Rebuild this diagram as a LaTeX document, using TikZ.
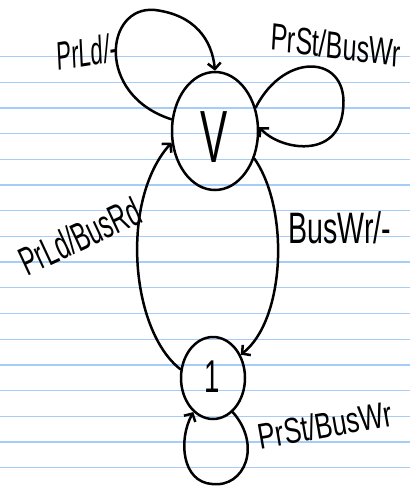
\documentclass[tikz,border=0pt]{standalone}
\usepackage{fontspec}
\setmainfont{Liberation Sans}
\usetikzlibrary{shapes.geometric,arrows.meta}
\definecolor{ruleblue}{RGB}{165,205,248}
\tikzset{
  stateV/.style={draw, ellipse, line width=2.5pt, minimum width=86pt, minimum height=118pt, inner sep=0pt},
  stateI/.style={draw, ellipse, line width=2.5pt, minimum width=64pt, minimum height=82pt, inner sep=0pt},
  edge/.style={line width=2.5pt, line cap=round, -{Straight Barb[length=6pt,width=13pt,line width=2.5pt]}},
  lbl/.style={inner sep=0pt, font=\fontsize{40}{40}\selectfont},
  ruled/.style={ruleblue, line width=1.3pt}
}
\begin{document}
\begin{tikzpicture}[x=1pt,y=-1pt]
\useasboundingbox[fill=white] (0,0) rectangle (410,486);
\foreach \k in {0,...,16} {\draw[ruled] (0,56.5+25.7*\k) -- (410,56.5+25.7*\k);}
\node[stateV] (V) at (215,131) {};
\node[stateI] (one) at (213,378) {};
\node[inner sep=0pt, xscale=0.55, font=\fontsize{74}{74}\selectfont] (Vt) at (214,137) {V};
\node[inner sep=0pt, xscale=0.6, font=\fontsize{46}{46}\selectfont] (It) at (212,377) {1};
% loops and edges
\draw[edge] (V.165) .. controls (95,95) and (105,5) .. (155,10) .. controls (195,15) and (212,40) .. (V.90);
\draw[edge] (V.30) .. controls (285,50) and (350,55) .. (343,110) .. controls (338,160) and (280,150) .. (V.5);
\draw[edge] (V.-35) .. controls (290,210) and (285,320) .. (one.40);
\draw[edge] (one.165) .. controls (130,330) and (120,200) .. (V.195);
\draw[edge] (one.-60) .. controls (262,445) and (245,488) .. (212,484) .. controls (182,482) and (178,440) .. (one.-120);
% labels
\node[lbl, xscale=0.55, rotate=5] (l1) at (87,52) {PrLd/-};
\node[lbl, font=\fontsize{38}{38}\selectfont, xscale=0.66, rotate=-5] (l2) at (336,45) {PrSt/BusWr};
\node[lbl, rotate=25, xscale=0.6] (l3) at (80,236) {PrLd/BusRd};
\node[lbl, font=\fontsize{44}{44}\selectfont, xscale=0.65] (l4) at (340,228) {BusWr/-};
\node[lbl, font=\fontsize{36}{36}\selectfont, rotate=10, xscale=0.72] (l5) at (325,425) {PrSt/BusWr};
\end{tikzpicture}
\end{document}
